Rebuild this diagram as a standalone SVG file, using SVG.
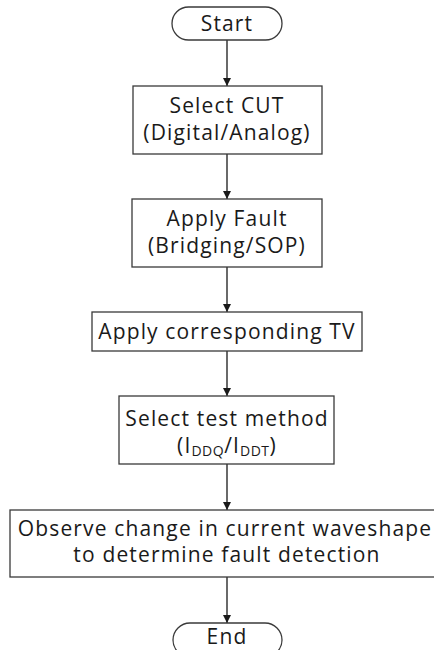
<svg xmlns="http://www.w3.org/2000/svg" width="434" height="650" viewBox="0 0 434 650">
  <defs>
    <marker id="arrow" viewBox="0 0 10 10" refX="10" refY="5" markerWidth="8" markerHeight="8" markerUnits="userSpaceOnUse" orient="auto">
      <path d="M0,0 L10,5 L0,10 Z" fill="#1a1a1a"/>
    </marker>
    <style>
      .shape { fill: #ffffff; stroke: #3a3a3a; stroke-width: 1.3; }
      .label { font-family: "Open Sans", "Noto Sans", "DejaVu Sans", sans-serif; font-size: 21px; letter-spacing: 1.15px; fill: #1a1a1a; text-anchor: middle; }
      .sub { font-size: 14px; letter-spacing: 0.5px; }
      .link { stroke: #1a1a1a; stroke-width: 1.3; fill: none; marker-end: url(#arrow); }
    </style>
  </defs>
  <rect width="434" height="650" fill="#ffffff"/>

  <g id="connectors">
    <line class="link" x1="227" y1="40" x2="227" y2="86"/>
    <line class="link" x1="227" y1="154" x2="227" y2="199"/>
    <line class="link" x1="227" y1="267" x2="227" y2="312"/>
    <line class="link" x1="227" y1="351" x2="227" y2="396"/>
    <line class="link" x1="227" y1="464" x2="227" y2="510"/>
    <line class="link" x1="227" y1="577" x2="227" y2="623"/>
  </g>

  <g id="start">
    <rect class="shape" x="172" y="7" width="110" height="33" rx="16.5"/>
    <text class="label" x="227" y="31">Start</text>
  </g>

  <g id="select-cut">
    <rect class="shape" x="133" y="86" width="189" height="68"/>
    <text class="label" x="227" y="113">Select CUT</text>
    <text class="label" x="227" y="140">(Digital/Analog)</text>
  </g>

  <g id="apply-fault">
    <rect class="shape" x="132" y="199" width="190" height="68"/>
    <text class="label" x="227" y="226">Apply Fault</text>
    <text class="label" x="227" y="253">(Bridging/SOP)</text>
  </g>

  <g id="apply-tv">
    <rect class="shape" x="92" y="312" width="270" height="39"/>
    <text class="label" x="227" y="339">Apply corresponding TV</text>
  </g>

  <g id="select-method">
    <rect class="shape" x="119" y="396" width="215" height="68"/>
    <text class="label" x="227" y="426">Select test method</text>
    <text class="label" x="227" y="453">(I<tspan class="sub" dy="3">DDQ</tspan><tspan dy="-3">/I</tspan><tspan class="sub" dy="3">DDT</tspan><tspan dy="-3">)</tspan></text>
  </g>

  <g id="observe">
    <rect class="shape" x="10" y="510" width="435" height="67"/>
    <text class="label" x="225" y="536">Observe change in current waveshape</text>
    <text class="label" x="227" y="562">to determine fault detection</text>
  </g>

  <g id="end">
    <rect class="shape" x="173" y="623" width="109" height="34" rx="17"/>
    <text class="label" x="227" y="644">End</text>
  </g>
</svg>
